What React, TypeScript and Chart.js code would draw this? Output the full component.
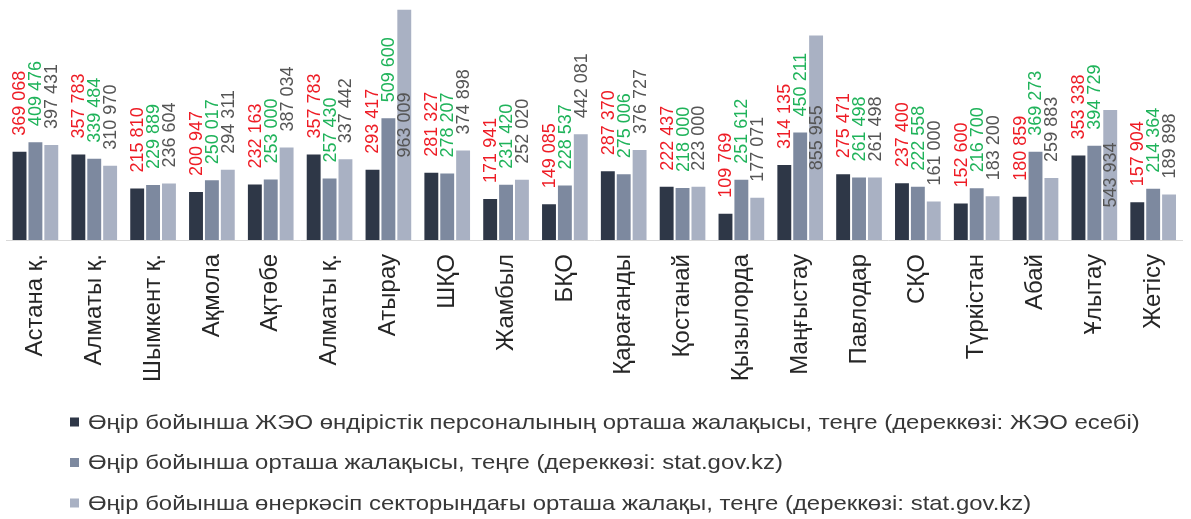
import React, { useEffect, useRef } from "react";
import { Chart, registerables } from "chart.js";

Chart.register(...registerables);

const categories = [
  "Астана қ.",
  "Алматы қ.",
  "Шымкент қ.",
  "Ақмола",
  "Ақтөбе",
  "Алматы қ.",
  "Атырау",
  "ШҚО",
  "Жамбыл",
  "БҚО",
  "Қарағанды",
  "Қостанай",
  "Қызылорда",
  "Маңғыстау",
  "Павлодар",
  "СҚО",
  "Түркістан",
  "Абай",
  "Ұлытау",
  "Жетісу",
];

const seriesNames = [
  "Өңір бойынша ЖЭО өндірістік персоналының орташа жалақысы, теңге (дереккөзі: ЖЭО есебі)",
  "Өңір бойынша орташа жалақысы, теңге (дереккөзі: stat.gov.kz)",
  "Өңір бойынша өнеркәсіп секторындағы орташа жалақы, теңге (дереккөзі: stat.gov.kz)",
];

const tppWage = [
  369068, 357783, 215810, 200947, 232163, 357783, 293417, 281327, 171941, 149085,
  287370, 222437, 109769, 314135, 275471, 237400, 152600, 180859, 353338, 157904,
];

const regionWage = [
  409476, 339484, 229889, 250017, 253000, 257430, 509600, 278207, 231420, 228537,
  275006, 218000, 251612, 450211, 261498, 222558, 216700, 369273, 394729, 214364,
];

const industryWage = [
  397431, 310970, 236604, 294311, 387034, 337442, 963009, 374898, 252020, 442081,
  376727, 223000, 177071, 855955, 261498, 161000, 183200, 259883, 543934, 189898,
];

const barColors = ["#2e3747", "#7d899f", "#a9b1c3"];
const labelColors = ["#ee1c25", "#1fb35a", "#555555"];
const FONT = "'Liberation Sans', Arial, sans-serif";

const fmt = (v: number) => String(v).replace(/\B(?=(\d{3})+(?!\d))/g, " ");

const valueLabels = {
  id: "valueLabels",
  afterDatasetsDraw(chart: any) {
    const ctx = chart.ctx;
    ctx.save();
    ctx.font = `18px ${FONT}`;
    ctx.textBaseline = "middle";
    chart.data.datasets.forEach((ds: any, di: number) => {
      const meta = chart.getDatasetMeta(di);
      meta.data.forEach((bar: any, i: number) => {
        const v = ds.data[i] as number;
        const { x, y, base } = bar.getProps(["x", "y", "base"], true);
        ctx.save();
        ctx.fillStyle = labelColors[di];
        if (v > 520000) {
          ctx.translate(x, (y + base) / 2);
          ctx.rotate(-Math.PI / 2);
          ctx.textAlign = "center";
        } else {
          ctx.translate(x, y - 16);
          ctx.rotate(-Math.PI / 2);
          ctx.textAlign = "left";
        }
        ctx.fillText(fmt(v), 0, 1);
        ctx.restore();
      });
    });
    ctx.restore();
  },
};

const customLegend = {
  id: "customLegend",
  afterDraw(chart: any) {
    const ctx = chart.ctx;
    ctx.save();
    ctx.font = `21px ${FONT}`;
    ctx.textBaseline = "middle";
    ctx.textAlign = "left";
    chart.data.datasets.forEach((ds: any, di: number) => {
      const cy = 422 + di * 40.5;
      ctx.fillStyle = barColors[di];
      ctx.fillRect(70, cy - 4.5, 9, 9);
      ctx.save();
      ctx.translate(88, cy + 1);
      ctx.scale(1.14, 1);
      ctx.fillStyle = "#383838";
      ctx.fillText(ds.label, 0, 0);
      ctx.restore();
    });
    ctx.restore();
  },
};

export default function App() {
  const canvasRef = useRef<HTMLCanvasElement | null>(null);

  useEffect(() => {
    if (!canvasRef.current) return;
    const chart = new Chart(canvasRef.current, {
      type: "bar",
      data: {
        labels: categories,
        datasets: [tppWage, regionWage, industryWage].map((d, i) => ({
          label: seriesNames[i],
          data: d,
          backgroundColor: barColors[i],
          borderWidth: 0,
          categoryPercentage: 0.81,
          barPercentage: 0.875,
        })),
      },
      options: {
        animation: false,
        responsive: true,
        maintainAspectRatio: false,
        layout: { padding: { left: 6, right: 1, top: 1, bottom: 129 } },
        plugins: {
          legend: { display: false },
          tooltip: { enabled: false },
        },
        scales: {
          x: {
            grid: { display: false, drawTicks: false },
            border: { display: true, color: "#d9d9d9", width: 1 },
            ticks: {
              autoSkip: false,
              minRotation: 90,
              maxRotation: 90,
              padding: 14,
              color: "#262626",
              font: { size: 24, family: FONT },
            },
            afterFit: (scale: any) => {
              scale.height = 150;
            },
          },
          y: {
            display: false,
            min: 0,
            max: 1000000,
          },
        },
      },
      plugins: [valueLabels, customLegend],
    });
    return () => chart.destroy();
  }, []);

  return (
    <div
      style={{
        position: "absolute",
        left: 0,
        top: 0,
        width: 1191,
        height: 519,
        overflow: "hidden",
        background: "#ffffff",
      }}
    >
      <div style={{ position: "relative", width: 1196, height: 519 }}>
        <canvas ref={canvasRef} />
      </div>
    </div>
  );
}
